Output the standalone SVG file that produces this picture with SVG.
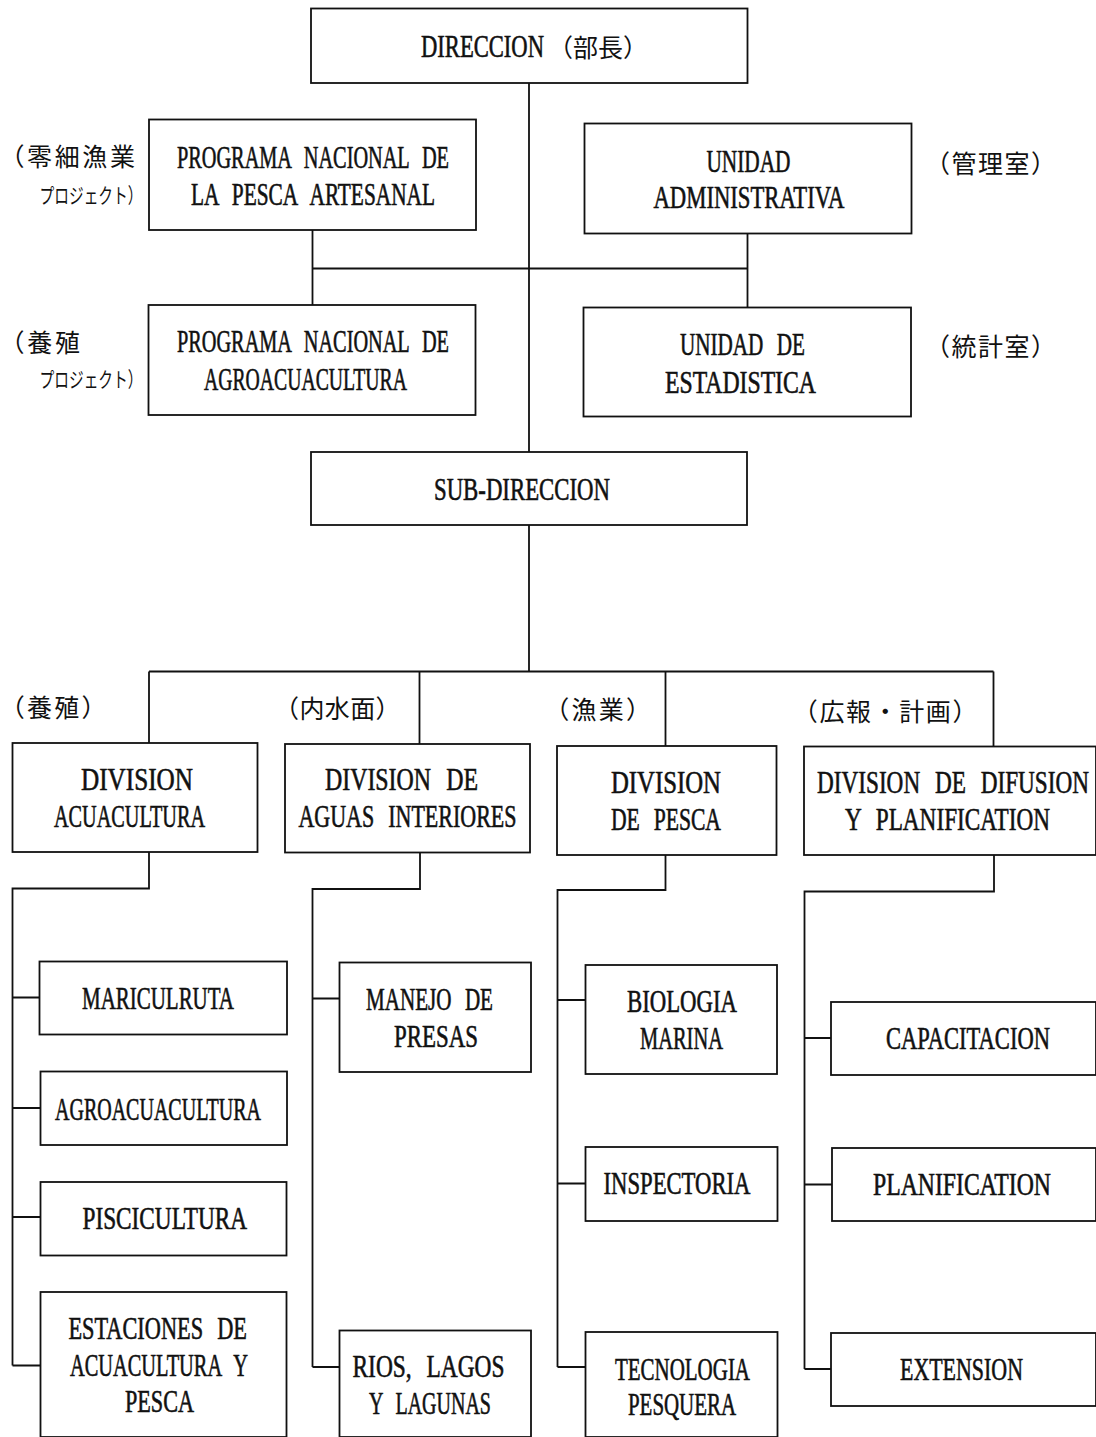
<svg xmlns="http://www.w3.org/2000/svg" width="1096" height="1437" viewBox="0 0 1096 1437">
<style>
.box{fill:#fff;stroke:#111;stroke-width:1.8}
.ln{fill:none;stroke:#111;stroke-width:1.8}
.t{font-family:"Liberation Serif","Times New Roman",serif;font-size:31px;word-spacing:12px;fill:#111;stroke:#111;stroke-width:0.6}
.j{font-family:"Noto Sans CJK JP","Noto Sans CJK SC",sans-serif;font-size:25px;fill:#111}
.k{font-family:"Noto Sans CJK JP","Noto Sans CJK SC",sans-serif;font-size:21px;fill:#111}
</style>
<rect x="0" y="0" width="1096" height="1437" fill="#fff"/>
<g id="connectors">
<path class="ln" d="M529 83V452M529 525V671.5"/>
<path class="ln" d="M312.5 268.5H747.5M312.5 230V305M747.5 233.5V307.5"/>
<path class="ln" d="M149 671.5H993.5M149 671.5V743M419.5 671.5V744M665.5 671.5V746M993.5 671.5V746.5"/>
<path class="ln" d="M149 852V888.5H12.5V1365.5M12.5 997.5H39.5M12.5 1108H40.5M12.5 1217H40.5M12.5 1365.5H40.5"/>
<path class="ln" d="M420 852.5V889H312.5V1367M312.5 998.5H339.5M312.5 1367H339.5"/>
<path class="ln" d="M665.5 855V890H557.5V1367M557.5 1000H585.5M557.5 1183.5H585.5M557.5 1367H585.5"/>
<path class="ln" d="M994 855V891.5H804.5V1369M804.5 1038H831M804.5 1184.5H832M804.5 1369H831"/>
</g>
<g id="direccion">
<rect class="box" x="311" y="8.5" width="436.5" height="74.5"/>
<text class="t" transform="scale(0.72 1)" x="584.72" y="57" textLength="170.83" lengthAdjust="spacingAndGlyphs">DIRECCION</text>
<text class="j" x="548" y="56.5" textLength="100" lengthAdjust="spacing">（部長）</text>
</g>
<g id="pesca-artesanal">
<rect class="box" x="149" y="119.5" width="327" height="110.5"/>
<text class="t" transform="scale(0.72 1)" x="245.83" y="168" textLength="377.78" lengthAdjust="spacingAndGlyphs">PROGRAMA NACIONAL DE</text>
<text class="t" transform="scale(0.72 1)" x="265.28" y="205" textLength="338.89" lengthAdjust="spacingAndGlyphs">LA PESCA ARTESANAL</text>
<text class="j" x="-0.5" y="166" textLength="135.5" lengthAdjust="spacing">（零細漁業</text>
<text class="k" x="39.5" y="203" textLength="103" lengthAdjust="spacingAndGlyphs">プロジェクト）</text>
</g>
<g id="unidad-administrativa">
<rect class="box" x="584.5" y="123.5" width="327" height="110"/>
<text class="t" transform="scale(0.72 1)" x="981.25" y="172" textLength="116.67" lengthAdjust="spacingAndGlyphs">UNIDAD</text>
<text class="t" transform="scale(0.72 1)" x="907.64" y="208" textLength="265.28" lengthAdjust="spacingAndGlyphs">ADMINISTRATIVA</text>
<text class="j" x="925" y="173" textLength="131" lengthAdjust="spacing">（管理室）</text>
</g>
<g id="agroacuacultura-programa">
<rect class="box" x="148.5" y="305" width="327" height="110"/>
<text class="t" transform="scale(0.72 1)" x="245.83" y="352" textLength="377.78" lengthAdjust="spacingAndGlyphs">PROGRAMA NACIONAL DE</text>
<text class="t" transform="scale(0.72 1)" x="283.33" y="390" textLength="281.94" lengthAdjust="spacingAndGlyphs">AGROACUACULTURA</text>
<text class="j" x="-0.4" y="351.5" textLength="80.4" lengthAdjust="spacing">（養殖</text>
<text class="k" x="39.5" y="387" textLength="103" lengthAdjust="spacingAndGlyphs">プロジェクト）</text>
</g>
<g id="unidad-estadistica">
<rect class="box" x="583.5" y="307.5" width="327.5" height="109"/>
<text class="t" transform="scale(0.72 1)" x="944.44" y="355" textLength="173.61" lengthAdjust="spacingAndGlyphs">UNIDAD DE</text>
<text class="t" transform="scale(0.72 1)" x="923.61" y="393" textLength="209.72" lengthAdjust="spacingAndGlyphs">ESTADISTICA</text>
<text class="j" x="925" y="356" textLength="131" lengthAdjust="spacing">（統計室）</text>
</g>
<g id="sub-direccion">
<rect class="box" x="311" y="452" width="436" height="73"/>
<text class="t" transform="scale(0.72 1)" x="602.78" y="500" textLength="244.44" lengthAdjust="spacingAndGlyphs">SUB-DIRECCION</text>
</g>
<g id="division-acuacultura">
<rect class="box" x="12.5" y="743" width="245" height="109"/>
<text class="t" transform="scale(0.72 1)" x="112.5" y="790" textLength="155.56" lengthAdjust="spacingAndGlyphs">DIVISION</text>
<text class="t" transform="scale(0.72 1)" x="75" y="827" textLength="209.72" lengthAdjust="spacingAndGlyphs">ACUACULTURA</text>
<text class="j" x="-0.3" y="716.5" textLength="106.7" lengthAdjust="spacing">（養殖）</text>
</g>
<g id="division-aguas-interiores">
<rect class="box" x="285" y="744" width="245" height="108.5"/>
<text class="t" transform="scale(0.72 1)" x="451.39" y="790" textLength="212.5" lengthAdjust="spacingAndGlyphs">DIVISION DE</text>
<text class="t" transform="scale(0.72 1)" x="414.58" y="827" textLength="302.78" lengthAdjust="spacingAndGlyphs">AGUAS INTERIORES</text>
<text class="j" x="274" y="718" textLength="126.6" lengthAdjust="spacing">（内水面）</text>
</g>
<g id="division-pesca">
<rect class="box" x="557" y="746" width="219.5" height="109"/>
<text class="t" transform="scale(0.72 1)" x="848.61" y="793" textLength="152.78" lengthAdjust="spacingAndGlyphs">DIVISION</text>
<text class="t" transform="scale(0.72 1)" x="848.61" y="830" textLength="152.78" lengthAdjust="spacingAndGlyphs">DE PESCA</text>
<text class="j" x="544.3" y="719" textLength="106.7" lengthAdjust="spacing">（漁業）</text>
</g>
<g id="division-difusion">
<rect class="box" x="804" y="746.5" width="292" height="108.5"/>
<text class="t" transform="scale(0.72 1)" x="1134.72" y="793" textLength="377.78" lengthAdjust="spacingAndGlyphs">DIVISION DE DIFUSION</text>
<text class="t" transform="scale(0.72 1)" x="1173.61" y="830" textLength="284.72" lengthAdjust="spacingAndGlyphs">Y PLANIFICATION</text>
<text class="j" x="792.8" y="720.7" textLength="184.7" lengthAdjust="spacing">（広報・計画）</text>
</g>
<g id="mariculruta">
<rect class="box" x="39.5" y="961.5" width="247.5" height="73"/>
<text class="t" transform="scale(0.72 1)" x="113.89" y="1008.7" textLength="211.11" lengthAdjust="spacingAndGlyphs">MARICULRUTA</text>
</g>
<g id="agroacuacultura">
<rect class="box" x="40.5" y="1071.5" width="246.5" height="73.5"/>
<text class="t" transform="scale(0.72 1)" x="76.39" y="1119.7" textLength="286.11" lengthAdjust="spacingAndGlyphs">AGROACUACULTURA</text>
</g>
<g id="piscicultura">
<rect class="box" x="40.5" y="1182" width="246" height="73.5"/>
<text class="t" transform="scale(0.72 1)" x="114.58" y="1228.7" textLength="228.47" lengthAdjust="spacingAndGlyphs">PISCICULTURA</text>
</g>
<g id="estaciones">
<rect class="box" x="40.5" y="1292" width="246" height="145"/>
<text class="t" transform="scale(0.72 1)" x="95.14" y="1338.7" textLength="247.92" lengthAdjust="spacingAndGlyphs">ESTACIONES DE</text>
<text class="t" transform="scale(0.72 1)" x="97.22" y="1376" textLength="247.22" lengthAdjust="spacingAndGlyphs">ACUACULTURA Y</text>
<text class="t" transform="scale(0.72 1)" x="173.61" y="1412" textLength="95.83" lengthAdjust="spacingAndGlyphs">PESCA</text>
</g>
<g id="manejo-presas">
<rect class="box" x="339.5" y="962.5" width="191.5" height="109.5"/>
<text class="t" transform="scale(0.72 1)" x="508.33" y="1010" textLength="176.39" lengthAdjust="spacingAndGlyphs">MANEJO DE</text>
<text class="t" transform="scale(0.72 1)" x="547.22" y="1047" textLength="116.67" lengthAdjust="spacingAndGlyphs">PRESAS</text>
</g>
<g id="rios-lagos">
<rect class="box" x="339.5" y="1330.5" width="191.5" height="106.5"/>
<text class="t" transform="scale(0.72 1)" x="489.58" y="1377" textLength="211.11" lengthAdjust="spacingAndGlyphs">RIOS, LAGOS</text>
<text class="t" transform="scale(0.72 1)" x="512.5" y="1413.7" textLength="169.44" lengthAdjust="spacingAndGlyphs">Y LAGUNAS</text>
</g>
<g id="biologia-marina">
<rect class="box" x="585.5" y="965" width="191.5" height="109"/>
<text class="t" transform="scale(0.72 1)" x="870.83" y="1012" textLength="152.78" lengthAdjust="spacingAndGlyphs">BIOLOGIA</text>
<text class="t" transform="scale(0.72 1)" x="888.89" y="1048.7" textLength="115.28" lengthAdjust="spacingAndGlyphs">MARINA</text>
</g>
<g id="inspectoria">
<rect class="box" x="585.5" y="1147" width="192" height="74"/>
<text class="t" transform="scale(0.72 1)" x="838.19" y="1194" textLength="204.17" lengthAdjust="spacingAndGlyphs">INSPECTORIA</text>
</g>
<g id="tecnologia-pesquera">
<rect class="box" x="585.5" y="1332" width="192" height="105"/>
<text class="t" transform="scale(0.72 1)" x="854.17" y="1380" textLength="187.5" lengthAdjust="spacingAndGlyphs">TECNOLOGIA</text>
<text class="t" transform="scale(0.72 1)" x="872.22" y="1415" textLength="150" lengthAdjust="spacingAndGlyphs">PESQUERA</text>
</g>
<g id="capacitacion">
<rect class="box" x="831" y="1002" width="265" height="73"/>
<text class="t" transform="scale(0.72 1)" x="1230.56" y="1049" textLength="227.78" lengthAdjust="spacingAndGlyphs">CAPACITACION</text>
</g>
<g id="planification">
<rect class="box" x="832" y="1148" width="264" height="73"/>
<text class="t" transform="scale(0.72 1)" x="1212.5" y="1195" textLength="247.22" lengthAdjust="spacingAndGlyphs">PLANIFICATION</text>
</g>
<g id="extension">
<rect class="box" x="831" y="1333" width="265" height="73"/>
<text class="t" transform="scale(0.72 1)" x="1250" y="1380" textLength="170.83" lengthAdjust="spacingAndGlyphs">EXTENSION</text>
</g>
</svg>
